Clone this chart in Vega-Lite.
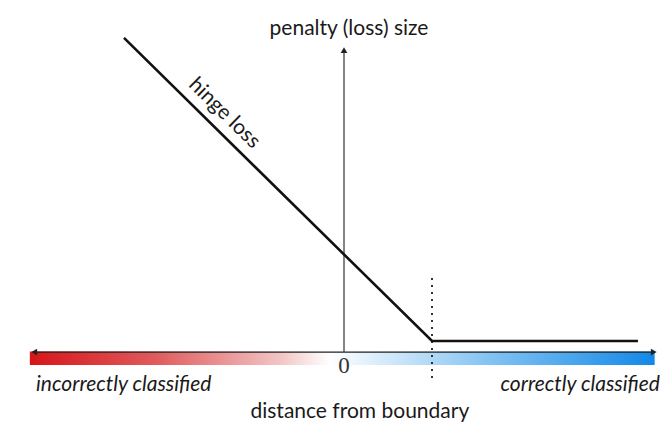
{
  "$schema": "https://vega.github.io/schema/vega-lite/v6.json",
  "width": 669,
  "height": 446,
  "autosize": {"type": "fit", "contains": "padding"},
  "padding": 0,
  "background": "white",
  "config": {"view": {"stroke": null}},
  "datasets": {
    "hinge": [{"x": -2.5, "y": 3.5}, {"x": 1, "y": 0}, {"x": 3.34, "y": 0}],
    "vaxis": [{"x": 0, "y": -0.127}, {"x": 0, "y": 3.36}],
    "haxis": [{"x": -3.5, "y": -0.127}, {"x": 3.5, "y": -0.127}],
    "margin": [{"x": 1, "y": 0.727}, {"x": 1, "y": -0.45}],
    "bar": [{"x": -3.57, "x2": 3.53, "y": -0.12, "y2": -0.277}],
    "arrows": [
      {"x": 0, "y": 3.36, "shape": "triangle-up"},
      {"x": -3.52, "y": -0.127, "shape": "triangle-left"},
      {"x": 3.52, "y": -0.127, "shape": "triangle-right"}
    ],
    "labels": [
      {"x": 0.057, "y": 3.6, "label": "penalty (loss) size"},
      {"x": 0.18, "y": -0.82, "label": "distance from boundary"}
    ]
  },
  "encoding": {
    "x": {"field": "x", "type": "quantitative", "scale": {"domain": [-3.909, 3.693], "nice": false, "zero": false}, "axis": null},
    "y": {"field": "y", "type": "quantitative", "scale": {"domain": [-1.212, 3.938], "nice": false, "zero": false}, "axis": null}
  },
  "layer": [
    {
      "data": {"name": "bar"},
      "mark": {"type": "rect", "fill": {"gradient": "linear", "stops": [
        {"offset": 0, "color": "#d61518"},
        {"offset": 0.2, "color": "#e05a5c"},
        {"offset": 0.4, "color": "#f2c4c4"},
        {"offset": 0.48, "color": "#ffffff"},
        {"offset": 0.56, "color": "#d8ecfb"},
        {"offset": 0.75, "color": "#7cc0f2"},
        {"offset": 1, "color": "#1288e8"}
      ]}},
      "encoding": {"x2": {"field": "x2"}, "y2": {"field": "y2"}}
    },
    {
      "data": {"name": "haxis"},
      "mark": {"type": "line", "color": "#222", "strokeWidth": 1.3}
    },
    {
      "data": {"name": "vaxis"},
      "mark": {"type": "line", "color": "#333", "strokeWidth": 1.2}
    },
    {
      "data": {"name": "arrows"},
      "mark": {"type": "point", "filled": true, "color": "#222", "opacity": 1, "size": 45},
      "encoding": {"shape": {"field": "shape", "type": "nominal", "scale": null}}
    },
    {
      "data": {"name": "margin"},
      "mark": {"type": "line", "color": "#333", "strokeWidth": 2, "strokeDash": [2, 5]}
    },
    {
      "data": {"name": "hinge"},
      "mark": {"type": "line", "color": "#111", "strokeWidth": 2.6}
    },
    {
      "data": {"name": "labels"},
      "mark": {"type": "text", "font": "Lato", "fontSize": 21, "color": "#1a1a1a", "align": "center", "baseline": "middle"},
      "encoding": {"text": {"field": "label"}}
    },
    {
      "data": {"values": [{"x": -3.5, "y": -0.508, "label": "incorrectly classified"}]},
      "mark": {"type": "text", "font": "Lato", "fontSize": 21, "fontStyle": "italic", "color": "#1a1a1a", "align": "left", "baseline": "middle"},
      "encoding": {"text": {"field": "label"}}
    },
    {
      "data": {"values": [{"x": 3.59, "y": -0.508, "label": "correctly classified"}]},
      "mark": {"type": "text", "font": "Lato", "fontSize": 21, "fontStyle": "italic", "color": "#1a1a1a", "align": "right", "baseline": "middle"},
      "encoding": {"text": {"field": "label"}}
    },
    {
      "data": {"values": [{"x": 0, "y": -0.283, "label": "0"}]},
      "mark": {"type": "text", "font": "Liberation Serif", "fontSize": 23, "color": "#333", "align": "center", "baseline": "middle"},
      "encoding": {"text": {"field": "label"}}
    },
    {
      "data": {"values": [{"x": -1.36, "y": 2.63, "label": "hinge loss"}]},
      "mark": {"type": "text", "font": "Lato", "fontSize": 21, "color": "#1a1a1a", "align": "center", "baseline": "middle", "angle": 44.5},
      "encoding": {"text": {"field": "label"}}
    }
  ]
}
